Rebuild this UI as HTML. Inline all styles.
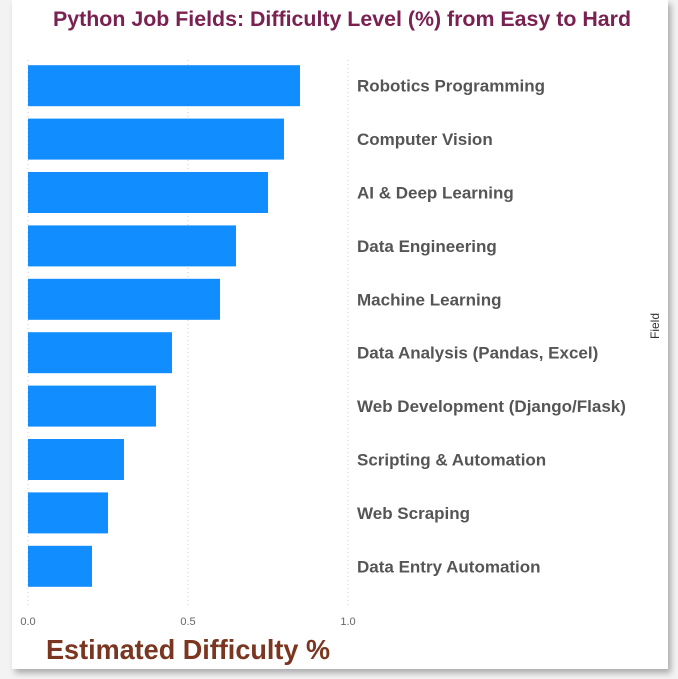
<!DOCTYPE html>
<html><head><meta charset="utf-8"><style>
body{margin:0;width:678px;height:679px;background:#f3f3f3;position:relative;overflow:hidden;font-family:"Liberation Sans",sans-serif}
#card{position:absolute;left:12px;top:0;width:656px;height:669px;background:#fff;box-shadow:3px 4px 6px rgba(0,0,0,0.3)}
</style></head><body>
<div id="card"></div>
<svg id="chart" width="678" height="679" style="position:absolute;left:0;top:0">
<text x="342" y="26" text-anchor="middle" font-size="21" font-weight="bold" fill="#7a2152" textLength="578" lengthAdjust="spacingAndGlyphs">Python Job Fields: Difficulty Level (%) from Easy to Hard</text>
<text transform="translate(659,326) rotate(-90)" text-anchor="middle" font-size="12" fill="#333">Field</text>
<text x="46" y="659" font-size="28" font-weight="bold" fill="#7a3620" textLength="284" lengthAdjust="spacingAndGlyphs">Estimated Difficulty %</text>
<g id="grid"></g><g id="bars"></g><g id="labels"></g>
</svg>
<script>
const categories=["Robotics Programming","Computer Vision","AI & Deep Learning","Data Engineering","Machine Learning","Data Analysis (Pandas, Excel)","Web Development (Django/Flask)","Scripting & Automation","Web Scraping","Data Entry Automation"];
const values=[0.85,0.80,0.75,0.65,0.60,0.45,0.40,0.30,0.25,0.20];
const ticks=[0,0.5,1.0];
const tickLabels=["0.0","0.5","1.0"];
const NS="http://www.w3.org/2000/svg";
const x0=28,x1=348,yTop=59,step=53.4,bh=41;
const xs=v=>x0+(x1-x0)*v;
function mk(t,a,p){const e=document.createElementNS(NS,t);for(const k in a)e.setAttribute(k,a[k]);document.getElementById(p).appendChild(e);return e;}
ticks.forEach((t,i)=>{
 const l=mk('line',{x1:xs(t),x2:xs(t),y1:60,y2:606,stroke:'#ccc','stroke-dasharray':'1,3'},'grid');
 
 
 const tx=mk('text',{x:xs(t),y:625,'text-anchor':'middle','font-size':11,fill:'#666'},'grid');
 tx.textContent=tickLabels[i];
 
 
});
categories.forEach((c,i)=>{
 const y=yTop+i*step+(step-bh)/2;
 const r=mk('rect',{x:x0,y:y,width:xs(values[i])-x0,height:bh,fill:'#118dff'},'bars');
 
 
 const t=mk('text',{x:357,y:y+bh/2+6,'font-size':17,'font-weight':'bold',fill:'#555'},'labels');
 t.textContent=c;
 
 
});
</script>
</body></html>
